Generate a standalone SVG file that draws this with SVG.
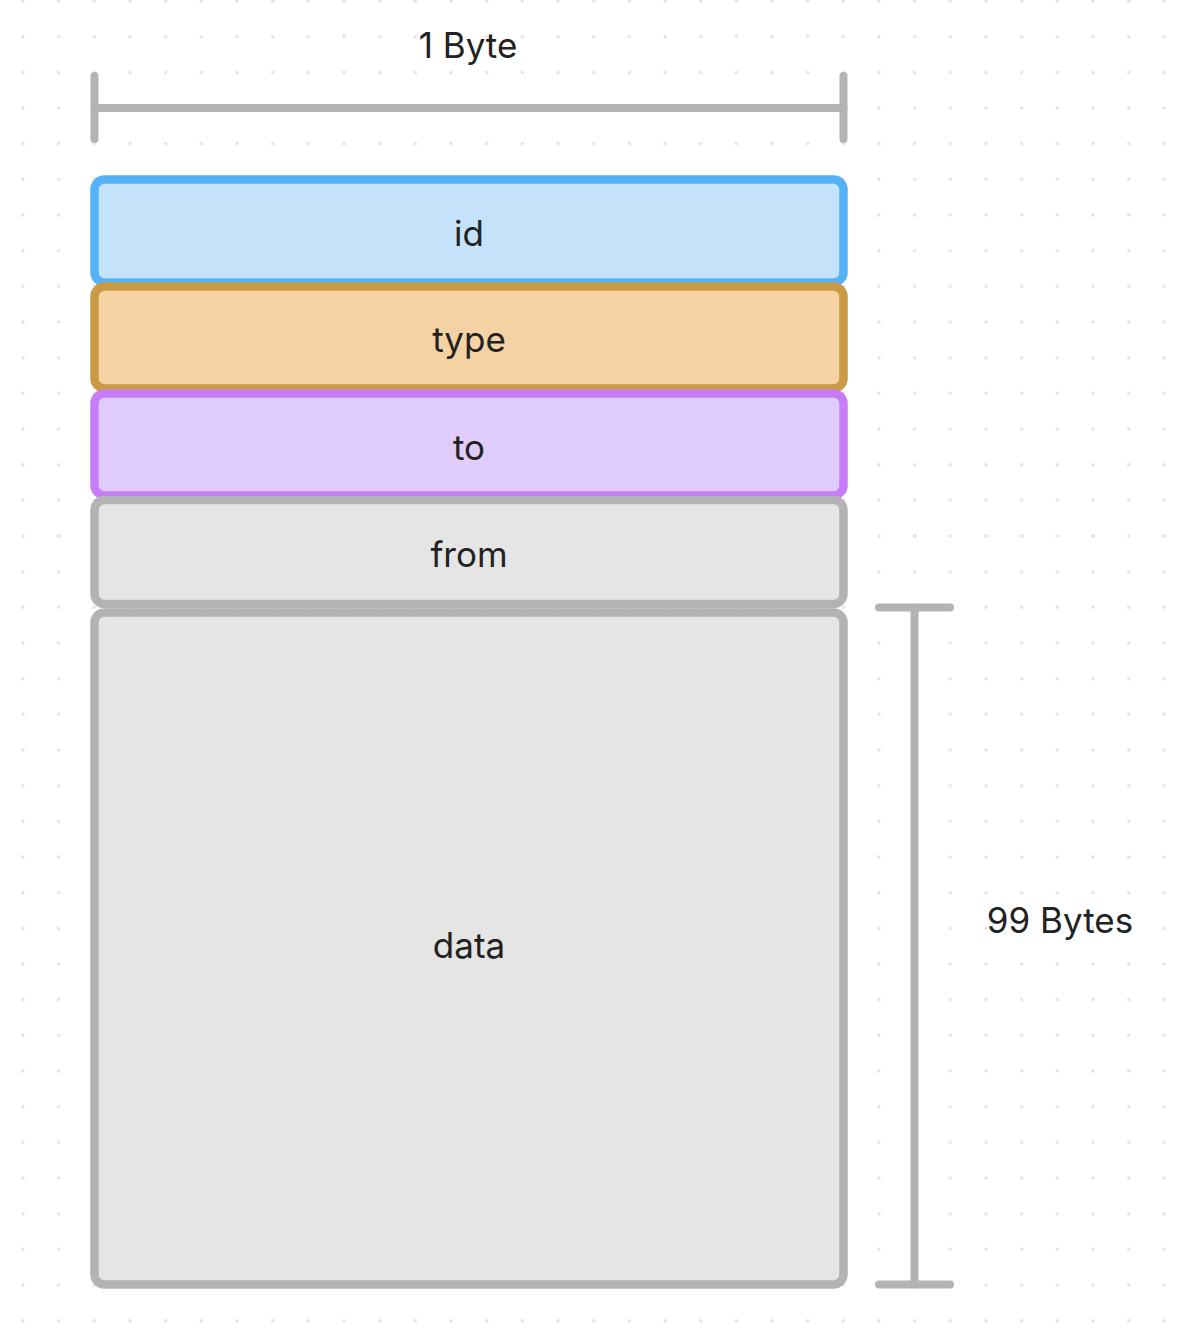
<svg xmlns="http://www.w3.org/2000/svg" width="1178" height="1330" viewBox="0 0 1178 1330">
  <defs>
    <pattern id="dots" patternUnits="userSpaceOnUse" x="5.17" y="-16.83" width="35.667" height="35.667">
      <circle cx="17.833" cy="17.833" r="1.8" fill="#e2e2e2"/>
    </pattern>
  </defs>
  <style>
    .lbl { font-family: Inter, "Noto Sans", "Liberation Sans", sans-serif; font-size: 35px; fill: #222222; text-anchor: middle; }
    .dim { stroke: #b3b3b3; stroke-width: 8; stroke-linecap: round; fill: none; }
    .box { stroke-width: 8.5; }
    .blue { fill: #c5e2fb; stroke: #56b2f7; }
    .tan { fill: #f5d2a3; stroke: #c99b45; }
    .purple { fill: #e0ccfa; stroke: #c77df8; }
    .gray { fill: #e5e5e5; stroke: #b3b3b3; }
  </style>
  <rect width="1178" height="1330" fill="#ffffff"/>
  <rect width="1178" height="1330" fill="url(#dots)"/>

  <g id="connectors">
    <g id="width-dimension">
      <line class="dim" x1="94.5" y1="76" x2="94.5" y2="139"/>
      <line class="dim" x1="94.5" y1="108" x2="843.5" y2="108"/>
      <line class="dim" x1="843.5" y1="76" x2="843.5" y2="139"/>
    </g>
    <g id="height-dimension">
      <line class="dim" x1="879" y1="607.5" x2="950" y2="607.5"/>
      <line class="dim" x1="914.5" y1="607.5" x2="914.5" y2="1284.5"/>
      <line class="dim" x1="879" y1="1284.5" x2="950" y2="1284.5"/>
    </g>
  </g>

  <g id="label-1-byte">
    <text class="lbl" x="468" y="58">1 Byte</text>
  </g>
  <g id="label-99-bytes">
    <text class="lbl" x="1060" y="933">99 Bytes</text>
  </g>

  <g id="node-id">
    <rect class="box blue" x="94.5" y="179.5" width="749" height="103" rx="10"/>
    <text class="lbl" x="469" y="246">id</text>
  </g>
  <g id="node-type">
    <rect class="box tan" x="94.5" y="286.5" width="749" height="102" rx="10"/>
    <text class="lbl" x="469" y="352">type</text>
  </g>
  <g id="node-to">
    <rect class="box purple" x="94.5" y="393.5" width="749" height="102" rx="10"/>
    <text class="lbl" x="469" y="460">to</text>
  </g>
  <g id="node-from">
    <rect class="box gray" x="94.5" y="500" width="749" height="104" rx="10"/>
    <text class="lbl" x="469" y="567">from</text>
  </g>
  <g id="node-data">
    <rect class="box gray" x="94.5" y="612.5" width="749" height="672" rx="10"/>
    <text class="lbl" x="469" y="958">data</text>
  </g>
</svg>
